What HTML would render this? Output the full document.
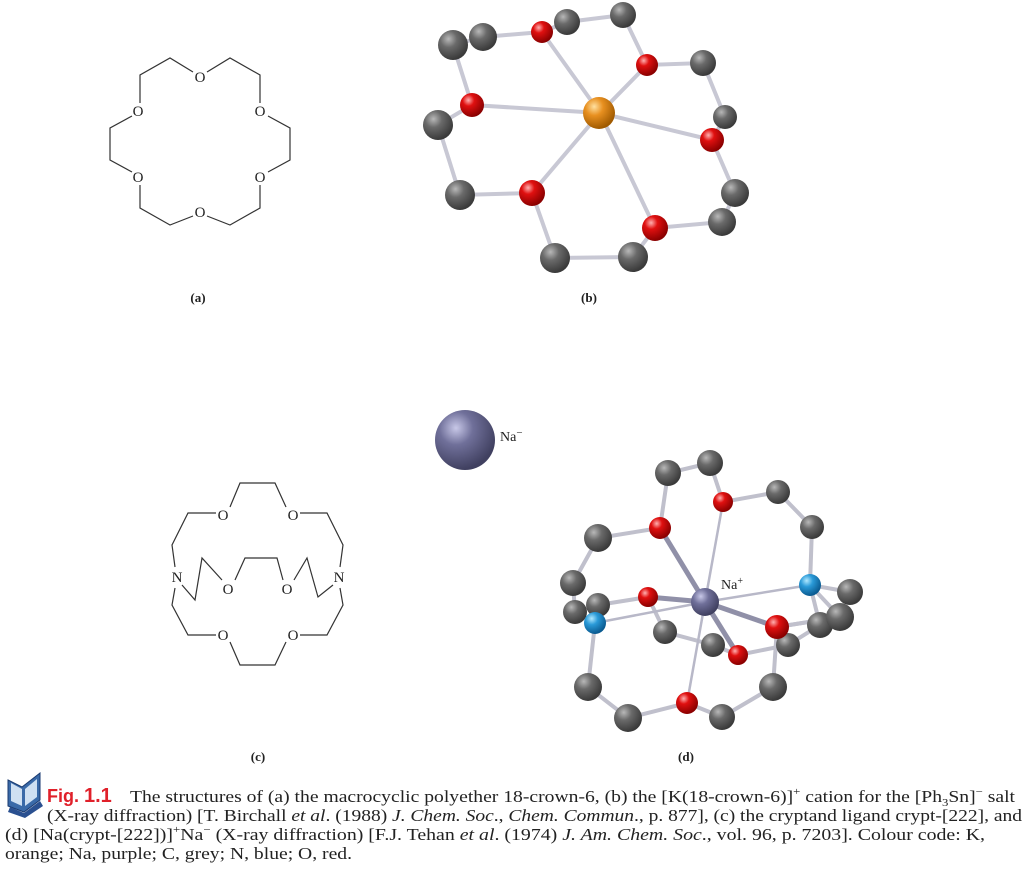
<!DOCTYPE html>
<html><head><meta charset="utf-8"><style>
html,body{margin:0;padding:0;background:#fff;}
svg{display:block;}
</style></head><body>
<svg width="1034" height="871" viewBox="0 0 1034 871" xmlns="http://www.w3.org/2000/svg">
<defs>
<radialGradient id="gC" cx="35%" cy="30%" r="70%"><stop offset="0" stop-color="#b8b8b8"/><stop offset="0.4" stop-color="#6a6a6a"/><stop offset="1" stop-color="#3a3a3a"/></radialGradient>
<radialGradient id="gO" cx="35%" cy="30%" r="70%"><stop offset="0" stop-color="#ffb0b0"/><stop offset="0.35" stop-color="#e01010"/><stop offset="1" stop-color="#8a0000"/></radialGradient>
<radialGradient id="gK" cx="35%" cy="30%" r="70%"><stop offset="0" stop-color="#ffe0a0"/><stop offset="0.4" stop-color="#e89020"/><stop offset="1" stop-color="#a05a00"/></radialGradient>
<radialGradient id="gN" cx="35%" cy="30%" r="70%"><stop offset="0" stop-color="#b0e8ff"/><stop offset="0.4" stop-color="#2a9ad8"/><stop offset="1" stop-color="#0a5a90"/></radialGradient>
<radialGradient id="gNa" cx="35%" cy="30%" r="70%"><stop offset="0" stop-color="#c8c8e8"/><stop offset="0.4" stop-color="#70709a"/><stop offset="1" stop-color="#404060"/></radialGradient>
</defs>

<!-- (a) 18-crown-6 -->
<g fill="none" stroke="#333" stroke-width="1.2">
<polyline points="193,72 170,58 140,75 140,103"/>
<polyline points="207,72 230,58 260,75 260,103"/>
<polyline points="132,116 110,128 110,160 132,172"/>
<polyline points="268,116 290,128 290,160 268,172"/>
<polyline points="140,185 140,208 170,225 193,216"/>
<polyline points="260,185 260,208 230,225 207,216"/>
</g>
<g font-family="Liberation Serif, serif" font-size="15" fill="#222" text-anchor="middle">
<text x="200" y="82">O</text><text x="138" y="116">O</text><text x="260" y="116">O</text>
<text x="138" y="182">O</text><text x="260" y="182">O</text><text x="200" y="217">O</text>
</g>

<!-- (c) crypt-222 -->
<g fill="none" stroke="#333" stroke-width="1.2">
<polyline points="230,507 240,483 275,483 286,507"/>
<polyline points="216,513 188,513 172,545 175,567"/>
<polyline points="300,513 327,513 343,545 340,567"/>
<polyline points="182,585 195,600 202,558 222,580"/>
<polyline points="235,580 245,558 277,558 283,580"/>
<polyline points="333,585 318,597 307,558 294,580"/>
<polyline points="175,588 172,605 188,635 216,635"/>
<polyline points="340,588 343,605 327,635 300,635"/>
<polyline points="230,642 240,665 275,665 286,642"/>
</g>
<g font-family="Liberation Serif, serif" font-size="15" fill="#222" text-anchor="middle">
<text x="223" y="520">O</text><text x="293" y="520">O</text>
<text x="228" y="594">O</text><text x="287" y="594">O</text>
<text x="223" y="640">O</text><text x="293" y="640">O</text>
<text x="177" y="582">N</text><text x="339" y="582">N</text>
</g>

<!-- (b) K(18-crown-6) -->
<g stroke="#c8c8d4" stroke-width="4" stroke-linecap="round">
<line x1="600" y1="113" x2="542" y2="32"/><line x1="600" y1="113" x2="647" y2="65"/>
<line x1="600" y1="113" x2="472" y2="105"/><line x1="600" y1="113" x2="712" y2="140"/>
<line x1="600" y1="113" x2="532" y2="193"/><line x1="600" y1="113" x2="655" y2="228"/>
<polyline fill="none" points="483,37 542,32 567,22 623,15 647,65 703,63 725,117 712,140 735,193 722,222 655,228 633,257 555,258 532,193 460,195 438,125 472,105 453,45 483,37"/>
</g>
<g>
<circle cx="453" cy="45" r="15" fill="url(#gC)"/><circle cx="483" cy="37" r="14" fill="url(#gC)"/>
<circle cx="567" cy="22" r="13" fill="url(#gC)"/><circle cx="623" cy="15" r="13" fill="url(#gC)"/>
<circle cx="703" cy="63" r="13" fill="url(#gC)"/><circle cx="725" cy="117" r="12" fill="url(#gC)"/>
<circle cx="438" cy="125" r="15" fill="url(#gC)"/><circle cx="460" cy="195" r="15" fill="url(#gC)"/>
<circle cx="735" cy="193" r="14" fill="url(#gC)"/><circle cx="722" cy="222" r="14" fill="url(#gC)"/>
<circle cx="555" cy="258" r="15" fill="url(#gC)"/><circle cx="633" cy="257" r="15" fill="url(#gC)"/>
<circle cx="542" cy="32" r="11" fill="url(#gO)"/><circle cx="647" cy="65" r="11" fill="url(#gO)"/>
<circle cx="472" cy="105" r="12" fill="url(#gO)"/><circle cx="712" cy="140" r="12" fill="url(#gO)"/>
<circle cx="532" cy="193" r="13" fill="url(#gO)"/><circle cx="655" cy="228" r="13" fill="url(#gO)"/>
<circle cx="599" cy="113" r="16" fill="url(#gK)"/>
</g>

<!-- Na- -->
<circle cx="465" cy="440" r="30" fill="url(#gNa)"/>
<text x="500" y="441" font-family="Liberation Serif, serif" font-size="14" fill="#222">Na<tspan font-size="11" dy="-5">−</tspan></text>

<!-- (d) Na(crypt-222) -->
<g stroke="#c0c0cc" stroke-width="4" stroke-linecap="round" fill="none">
<polyline points="660,528 668,473 710,463 723,502 778,492 812,527 810,585 850,592"/>
<polyline points="810,585 840,617 777,627 773,687 722,717 687,703 628,718 588,687 595,623 575,612 573,583 598,538 660,528"/>
<polyline points="595,623 598,605 648,597"/>
<polyline points="648,597 665,632 713,645 738,655 788,645 820,625 810,585"/>
<polyline points="777,627 840,617"/>
</g>
<g stroke="#b8b8c8" stroke-width="2.5">
<line x1="705" y1="602" x2="723" y2="502"/><line x1="705" y1="602" x2="687" y2="703"/>
<line x1="705" y1="602" x2="595" y2="623"/><line x1="705" y1="602" x2="810" y2="585"/>
</g>
<g stroke="#9090a8" stroke-width="5">
<line x1="705" y1="602" x2="660" y2="528"/><line x1="705" y1="602" x2="648" y2="597"/>
<line x1="705" y1="602" x2="777" y2="627"/><line x1="705" y1="602" x2="738" y2="655"/>
</g>
<g>
<circle cx="665" cy="632" r="12" fill="url(#gC)"/><circle cx="713" cy="645" r="12" fill="url(#gC)"/>
<circle cx="598" cy="605" r="12" fill="url(#gC)"/><circle cx="820" cy="625" r="13" fill="url(#gC)"/>
<circle cx="668" cy="473" r="13" fill="url(#gC)"/><circle cx="710" cy="463" r="13" fill="url(#gC)"/>
<circle cx="778" cy="492" r="12" fill="url(#gC)"/><circle cx="812" cy="527" r="12" fill="url(#gC)"/>
<circle cx="598" cy="538" r="14" fill="url(#gC)"/><circle cx="573" cy="583" r="13" fill="url(#gC)"/>
<circle cx="575" cy="612" r="12" fill="url(#gC)"/><circle cx="850" cy="592" r="13" fill="url(#gC)"/>
<circle cx="840" cy="617" r="14" fill="url(#gC)"/><circle cx="788" cy="645" r="12" fill="url(#gC)"/>
<circle cx="588" cy="687" r="14" fill="url(#gC)"/><circle cx="628" cy="718" r="14" fill="url(#gC)"/>
<circle cx="722" cy="717" r="13" fill="url(#gC)"/><circle cx="773" cy="687" r="14" fill="url(#gC)"/>
<circle cx="660" cy="528" r="11" fill="url(#gO)"/><circle cx="723" cy="502" r="10" fill="url(#gO)"/>
<circle cx="648" cy="597" r="10" fill="url(#gO)"/><circle cx="777" cy="627" r="12" fill="url(#gO)"/>
<circle cx="738" cy="655" r="10" fill="url(#gO)"/><circle cx="687" cy="703" r="11" fill="url(#gO)"/>
<circle cx="595" cy="623" r="11" fill="url(#gN)"/><circle cx="810" cy="585" r="11" fill="url(#gN)"/>
<circle cx="705" cy="602" r="14" fill="url(#gNa)"/>
</g>
<text x="721" y="589" font-family="Liberation Serif, serif" font-size="14" fill="#222">Na<tspan font-size="10" dy="-5">+</tspan></text>

<!-- labels -->
<g font-family="Liberation Serif, serif" font-size="13" font-weight="bold" fill="#222" text-anchor="middle">
<text x="198" y="302">(a)</text><text x="589" y="302">(b)</text>
<text x="258" y="761">(c)</text><text x="686" y="761">(d)</text>
</g>

<!-- book icon -->
<g>
<path d="M8,780 L22,787 L40,773 L40,800 L24,812 L8,806 Z" fill="#3a6aa8" stroke="#1a3a70" stroke-width="1"/>
<path d="M11,783 L22,789 L22,806 L11,801 Z" fill="#cfe0f2"/>
<path d="M25,789 L37,779 L37,797 L25,806 Z" fill="#cfe0f2"/>
<path d="M10,807 L24,813 L40,801 L43,806 L25,818 L8,812 Z" fill="#2a5090"/>
</g>

<!-- caption -->
<g font-family="Liberation Serif, serif" font-size="17" fill="#222">
<text x="47" y="802" font-family="Liberation Sans, sans-serif" font-weight="bold" fill="#e0202a" font-size="18">Fig. <tspan font-size="20">1.1</tspan></text>
<text x="130" y="802" textLength="885" lengthAdjust="spacingAndGlyphs">The structures of (a) the macrocyclic polyether 18-crown-6, (b) the [K(18-crown-6)]<tspan font-size="11" dy="-7">+</tspan><tspan dy="7"> cation for the [Ph</tspan><tspan font-size="11" dy="4">3</tspan><tspan dy="-4">Sn]</tspan><tspan font-size="11" dy="-7">−</tspan><tspan dy="7"> salt</tspan></text>
<text x="47" y="821" textLength="975" lengthAdjust="spacingAndGlyphs">(X-ray diffraction) [T. Birchall <tspan font-style="italic">et al</tspan>. (1988) <tspan font-style="italic">J. Chem. Soc</tspan>., <tspan font-style="italic">Chem. Commun</tspan>., p. 877], (c) the cryptand ligand crypt-[222], and</text>
<text x="5" y="840" textLength="980" lengthAdjust="spacingAndGlyphs">(d) [Na(crypt-[222])]<tspan font-size="11" dy="-7">+</tspan><tspan dy="7">Na</tspan><tspan font-size="11" dy="-7">−</tspan><tspan dy="7"> (X-ray diffraction) [F.J. Tehan </tspan><tspan font-style="italic">et al</tspan>. (1974) <tspan font-style="italic">J. Am. Chem. Soc</tspan>., vol. 96, p. 7203]. Colour code: K,</text>
<text x="5" y="859" textLength="347" lengthAdjust="spacingAndGlyphs">orange; Na, purple; C, grey; N, blue; O, red.</text>
</g>
</svg>
</body></html>
